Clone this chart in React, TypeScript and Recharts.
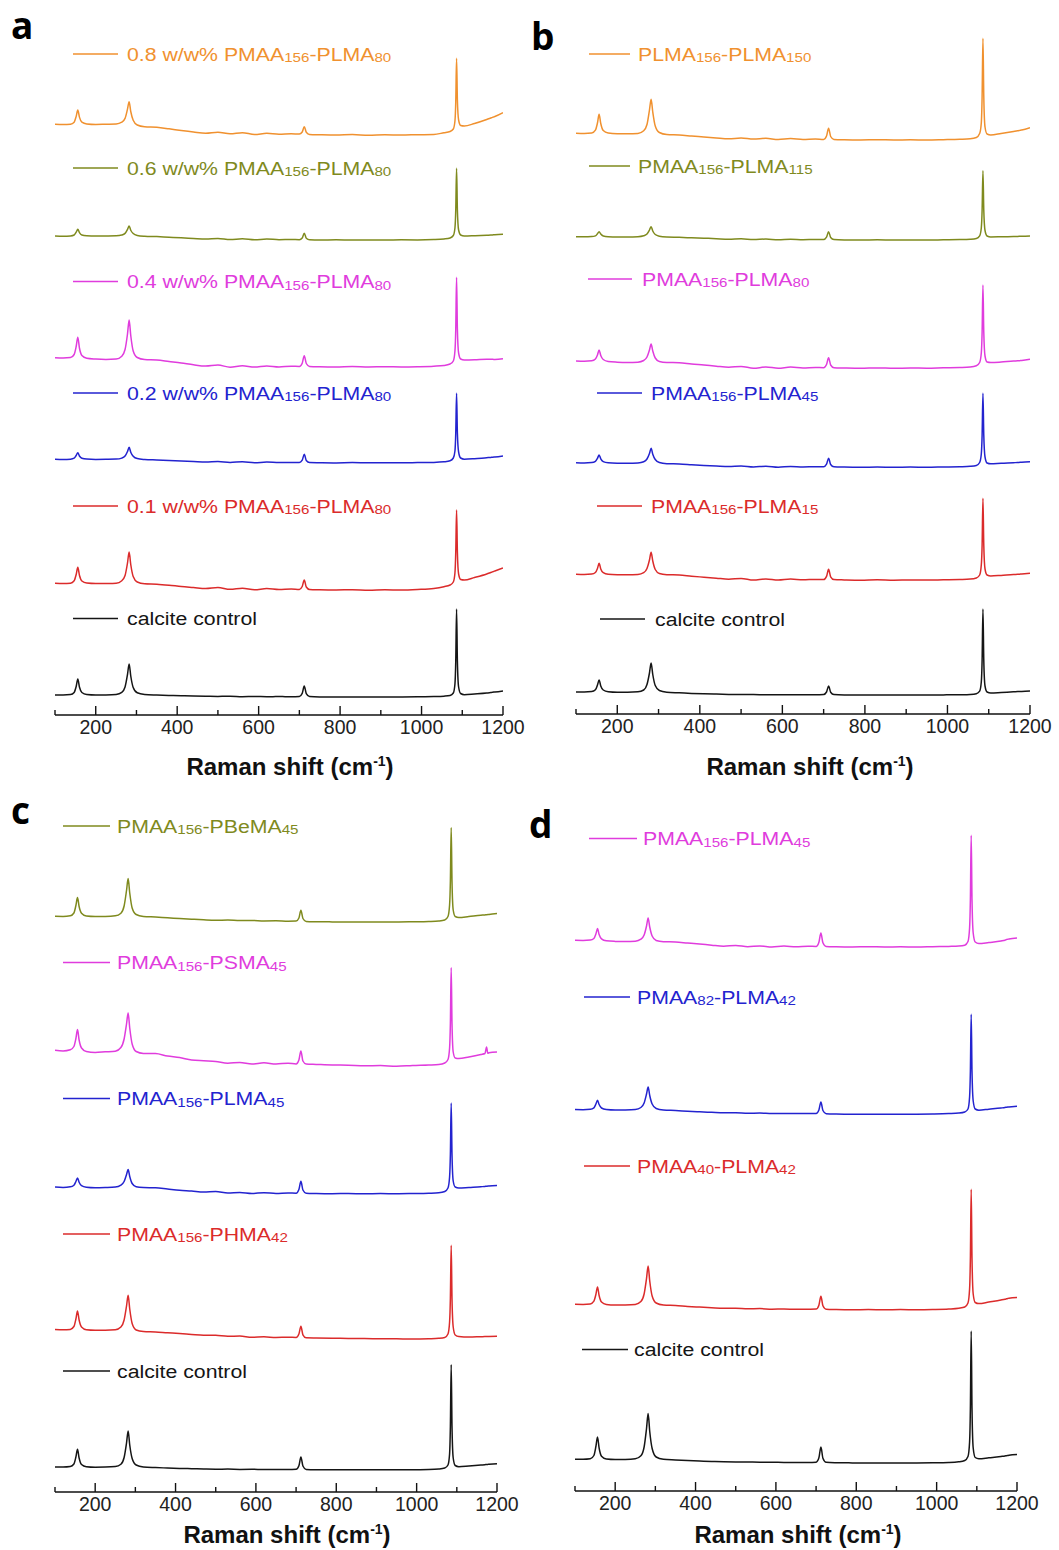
import React from 'react';
import { LineChart, Line, XAxis, YAxis } from 'recharts';

// Raman shift grid (cm-1) shared by every spectrum
const RAMAN_SHIFT = [
  100, 120, 138, 147, 152, 156, 160, 166, 178, 200,
  225, 250, 264, 272, 278, 282, 286, 292, 302, 320,
  350, 380, 410, 440, 470, 500, 530, 560, 590, 620,
  650, 680, 700, 707, 712, 717, 725, 750, 790, 830,
  870, 910, 950, 990, 1030, 1055, 1070, 1078, 1082, 1084,
  1086, 1088, 1091, 1096, 1105, 1130, 1160, 1170, 1174, 1177,
  1180, 1200,
];
const X_TICKS = [100, 200, 300, 400, 500, 600, 700, 800, 900, 1000, 1100, 1200];

// ---------- Panel a (intensities, a.u.) ----------
const A_LABELS = [
  '0.8 w/w% PMAA_{156}-PLMA_{80}',
  '0.6 w/w% PMAA_{156}-PLMA_{80}',
  '0.4 w/w% PMAA_{156}-PLMA_{80}',
  '0.2 w/w% PMAA_{156}-PLMA_{80}',
  '0.1 w/w% PMAA_{156}-PLMA_{80}',
  'calcite control',
];
const A_OFFSETS = [580, 475, 348, 252, 125, 18];
const A_080 = [
  10.7, 10.5, 10.8, 12.8, 18.6, 25, 17.9, 12.8, 11.1, 10.6,
  10.8, 11.0, 12.8, 16.6, 25.9, 33.3, 23.5, 14.8, 10.0, 8.2,
  7.7, 6.2, 4.5, 3.0, 1.8, 2.8, 1.2, 2.3, 0.5, 1.7,
  0.8, 1.2, 0.9, 3.0, 8.3, 2.8, 0.6, 0.3, 0.0, 0.4,
  -0.2, 0.2, 0.0, 0.3, 0.5, 2.3, 3.5, 6.0, 14, 33,
  76.7, 35, 15, 9.5, 9, 11.5, 15.5, 17.0, 17.6, 18.1,
  18.5, 22.3,
];
const A_060 = [
  4.0, 3.8, 4.1, 5.0, 7.8, 10.7, 7.4, 5.0, 4.2, 3.9,
  4.0, 4.2, 5.0, 6.6, 10.6, 14.0, 9.8, 6.5, 4.6, 3.8,
  3.4, 2.8, 2.2, 1.5, 0.9, 1.6, 0.4, 1.2, 0.2, 1.0,
  0.3, 0.5, 0.3, 2.0, 6.7, 1.8, 0.2, 0.0, 0.2, -0.1,
  0.1, 0.0, 0.2, 0.1, 0.4, 1.0, 2.0, 4.5, 12, 30,
  71.7, 30, 10, 5.0, 4.0, 4.3, 4.8, 5.0, 5.1, 5.2,
  5.3, 5.7,
];
const A_040 = [
  9.3, 9.0, 9.4, 12.5, 20.5, 29.7, 19.0, 11.5, 8.8, 8.0,
  7.6, 7.9, 10.8, 17.5, 33.0, 47.0, 31.5, 16.0, 9.5, 7.5,
  7.0, 5.5, 4.0, 2.2, 1.0, 2.0, -0.2, 1.3, -0.1, 1.0,
  0.0, 0.8, 0.5, 3.8, 11.3, 3.5, 0.6, 0.2, 0.0, 0.4,
  0.0, 0.3, 0.1, 0.3, 0.8, 1.5, 3.0, 6.0, 16, 38,
  89.7, 38, 14, 8.0, 7.0, 7.2, 7.8, 7.7, 7.7, 7.6,
  7.6, 8.3,
];
const A_020 = [
  3.7, 3.5, 3.8, 4.8, 7.5, 10.3, 7.0, 4.8, 3.9, 3.6,
  3.7, 3.9, 4.9, 7.0, 11.5, 15.7, 10.8, 6.8, 4.4, 3.5,
  3.0, 2.5, 2.0, 1.5, 1.0, 1.5, 0.6, 1.2, 0.3, 0.9,
  0.4, 0.6, 0.5, 2.8, 8.7, 2.5, 0.5, 0.3, 0.1, 0.4,
  0.2, 0.3, 0.2, 0.4, 0.6, 1.2, 2.2, 5.0, 12, 30,
  69.7, 30, 11, 5.0, 3.8, 4.3, 5.3, 5.6, 5.8, 5.9,
  6.0, 7.0,
];
const A_010 = [
  6.7, 6.5, 6.8, 9.2, 15.5, 22.7, 14.8, 9.0, 6.9, 6.4,
  6.5, 6.8, 9.3, 14.5, 27.0, 38.0, 25.5, 13.5, 8.0, 6.2,
  5.8, 4.8, 3.5, 2.5, 1.5, 2.5, 0.7, 1.8, 0.2, 1.5,
  0.5, 1.0, 0.6, 3.5, 10.0, 3.0, 0.5, 0.2, 0.0, 0.3,
  -0.2, 0.2, 0.0, 0.5, 1.5, 3.3, 5.0, 8.0, 17, 38,
  80.0, 38, 16, 10.5, 10.0, 12.5, 16.0, 17.5, 18.1, 18.6,
  19.0, 22.0,
];
const A_CALCITE = [
  2.0, 2.0, 2.4, 4.6, 10.5, 18.0, 10.0, 4.5, 2.5, 2.0,
  2.1, 2.6, 4.6, 10.0, 22.5, 33.0, 21.0, 9.5, 4.2, 2.6,
  2.0, 1.6, 1.2, 1.0, 0.8, 0.6, 0.7, 0.3, 0.5, 0.3,
  0.4, 0.3, 0.6, 3.6, 11.0, 3.4, 0.5, 0.1, 0.0, 0.1,
  0.0, 0.0, 0.1, 0.2, 0.4, 0.8, 1.5, 4.0, 13, 36,
  88.0, 36, 10, 3.5, 2.3, 3.0, 4.0, 4.5, 4.7, 4.9,
  5.0, 6.0,
];

// ---------- Panel b ----------
const B_LABELS = [
  'PLMA_{156}-PLMA_{150}',
  'PMAA_{156}-PLMA_{115}',
  'PMAA_{156}-PLMA_{80}',
  'PMAA_{156}-PLMA_{45}',
  'PMAA_{156}-PLMA_{15}',
  'calcite control',
];
const B_OFFSETS = [574, 474, 346, 247, 134, 19];
const B_150 = [
  6.7, 6.5, 6.9, 9.8, 17.0, 25.7, 16.5, 9.5, 7.0, 6.3,
  6.2, 6.5, 9.2, 15.5, 30.0, 40.7, 28.0, 14.0, 7.5, 5.5,
  5.0, 4.0, 3.0, 2.0, 1.2, 2.0, 0.9, 1.7, 0.5, 1.4,
  0.6, 1.0, 0.6, 4.0, 11.7, 3.5, 0.6, 0.2, 0.0, 0.3,
  0.0, 0.2, 0.0, 0.3, 0.7, 1.2, 2.5, 6.5, 17, 44,
  101.7, 44, 13, 6.0, 5.0, 6.5, 8.5, 9.2, 9.5, 9.8,
  10.0, 12.3,
];
const B_115 = [
  3.3, 3.2, 3.4, 4.1, 6.2, 8.3, 5.9, 4.0, 3.3, 3.1,
  3.1, 3.3, 4.2, 6.0, 10.0, 13.3, 9.0, 5.5, 3.8, 3.0,
  2.7, 2.2, 1.8, 1.3, 0.8, 1.2, 0.4, 1.0, 0.2, 0.8,
  0.3, 0.5, 0.4, 2.8, 8.3, 2.5, 0.4, 0.1, 0.0, 0.2,
  0.0, 0.1, 0.0, 0.2, 0.4, 0.8, 1.6, 4.2, 12, 30,
  69.3, 30, 9.5, 4.0, 3.0, 3.2, 3.5, 3.6, 3.7, 3.8,
  3.8, 4.0,
];
const B_80 = [
  7.0, 6.8, 7.2, 9.0, 13.0, 18.0, 12.5, 8.5, 6.5, 5.8,
  5.5, 5.8, 7.5, 11.0, 18.0, 24.0, 17.0, 10.0, 6.5, 5.5,
  5.3, 4.0, 3.0, 1.8, 0.8, 1.6, -0.3, 1.0, -0.2, 0.9,
  0.0, 0.6, 0.3, 3.5, 10.3, 3.0, 0.3, 0.0, -0.3, 0.1,
  -0.3, 0.0, -0.2, 0.2, 0.5, 1.0, 2.2, 5.5, 15, 36,
  83.0, 36, 12, 6.0, 5.5, 6.0, 7.0, 7.2, 7.3, 7.4,
  7.5, 8.7,
];
const B_45 = [
  4.3, 4.1, 4.4, 5.6, 8.7, 12.0, 8.2, 5.4, 4.2, 3.8,
  3.7, 4.0, 5.2, 8.0, 13.5, 18.7, 12.8, 7.5, 4.5, 3.3,
  3.0, 2.3, 1.6, 1.0, 0.5, 1.0, 0.0, 0.8, -0.2, 0.6,
  0.0, 0.3, 0.2, 2.8, 8.7, 2.5, 0.2, -0.1, -0.3, 0.0,
  -0.3, -0.1, -0.3, 0.0, 0.3, 0.7, 1.5, 4.5, 13, 32,
  73.7, 32, 10, 4.0, 3.2, 3.8, 4.3, 4.5, 4.6, 4.7,
  4.8, 5.3,
];
const B_15 = [
  5.7, 5.5, 5.9, 7.5, 11.5, 16.7, 11.0, 7.3, 5.7, 5.3,
  5.2, 5.5, 7.3, 11.5, 20.0, 27.7, 19.0, 10.5, 6.5, 5.3,
  5.0, 3.8, 2.8, 1.8, 0.8, 1.6, -0.1, 1.0, -0.1, 0.9,
  0.2, 0.6, 0.4, 3.6, 10.7, 3.2, 0.4, 0.1, -0.2, 0.2,
  -0.2, 0.1, -0.1, 0.2, 0.5, 0.9, 2.0, 5.0, 15, 35,
  81.7, 35, 11, 5.0, 4.0, 4.6, 5.5, 5.7, 5.8, 5.9,
  6.0, 6.7,
];
const B_CALCITE = [
  3.0, 3.0, 3.4, 5.2, 10.0, 15.0, 9.0, 5.0, 3.3, 2.8,
  2.8, 3.2, 5.0, 10.5, 22.0, 32.0, 20.5, 9.5, 4.5, 2.8,
  2.2, 1.6, 1.2, 0.9, 0.6, 0.5, 0.5, 0.2, 0.3, 0.2,
  0.3, 0.2, 0.5, 3.0, 9.0, 2.8, 0.4, 0.1, 0.0, 0.0,
  0.0, 0.0, 0.0, 0.1, 0.3, 0.6, 1.3, 3.8, 13, 35,
  86.0, 35, 9, 3.0, 2.0, 2.5, 3.2, 3.4, 3.5, 3.5,
  3.6, 4.0,
];

// ---------- Panel c ----------
const C_LABELS = [
  'PMAA_{156}-PBeMA_{45}',
  'PMAA_{156}-PSMA_{45}',
  'PMAA_{156}-PLMA_{45}',
  'PMAA_{156}-PHMA_{42}',
  'calcite control',
];
const C_OFFSETS = [570, 426, 298, 153, 22];
const C_PBEMA = [
  5.7, 5.6, 6.2, 9.0, 16.5, 24.4, 15.5, 8.8, 6.0, 5.5,
  5.6, 6.2, 8.8, 16.0, 31.5, 43.4, 29.0, 14.0, 7.5, 5.6,
  5.0, 4.2, 3.5, 2.8, 2.2, 1.8, 1.9, 1.4, 1.5, 1.1,
  1.2, 0.8, 0.9, 4.0, 11.7, 3.5, 0.6, 0.3, 0.1, 0.0,
  0.1, 0.0, 0.0, 0.2, 0.5, 1.0, 2.0, 5.5, 17, 41,
  94.4, 41, 12, 5.5, 4.5, 5.5, 6.8, 7.1, 7.3, 7.4,
  7.6, 8.4,
];
const C_PSMA = [
  15.7, 15.0, 16.2, 19.5, 27.5, 36.4, 26.0, 18.0, 14.5, 13.6,
  14.2, 14.8, 18.5, 27.0, 42.0, 53.0, 38.0, 22.0, 14.5, 12.6,
  12.4, 10.0, 8.5, 6.0, 5.2, 4.5, 2.8, 3.6, 2.0, 3.2,
  2.0, 2.8, 2.0, 6.0, 15.0, 5.0, 2.0, 1.6, 1.0, 0.8,
  0.2, 0.5, -0.3, 0.5, 1.0, 1.5, 3.0, 6.5, 18, 43,
  98.4, 43, 14, 8.0, 7.4, 9.0, 11.5, 12.5, 19.0, 12.8,
  13.2, 14.0,
];
const C_PLMA = [
  7.0, 6.6, 7.2, 8.8, 12.5, 16.0, 11.8, 8.3, 6.8, 6.3,
  6.5, 6.9, 8.8, 12.5, 19.5, 24.4, 17.5, 10.5, 7.3, 6.5,
  6.2, 5.0, 3.8, 3.0, 2.0, 2.4, 1.0, 1.5, 0.5, 1.3,
  0.6, 1.0, 0.8, 4.5, 12.7, 4.0, 0.8, 0.5, 0.3, 0.5,
  0.2, 0.4, 0.3, 0.5, 0.8, 1.2, 2.5, 6.0, 17, 40,
  91.0, 40, 13, 7.0, 6.0, 6.6, 7.3, 7.6, 7.8, 7.9,
  8.0, 8.4,
];
const C_PHMA = [
  9.4, 9.2, 9.6, 12.5, 20.0, 28.0, 19.0, 12.0, 9.3, 8.8,
  8.8, 9.2, 12.0, 19.0, 33.0, 43.7, 30.0, 15.5, 9.0, 7.4,
  7.0, 6.2, 5.5, 4.6, 3.8, 3.7, 2.8, 2.9, 1.7, 2.2,
  1.5, 1.8, 1.5, 5.0, 12.7, 4.2, 1.2, 1.0, 0.8, 0.6,
  0.4, 0.3, 0.2, 0.0, 0.3, 0.7, 1.5, 5.0, 17, 41,
  93.7, 41, 12, 4.0, 2.5, 2.0, 2.3, 2.4, 2.5, 2.5,
  2.6, 2.8,
];
const C_CALCITE = [
  3.0, 3.0, 3.5, 6.0, 13.0, 20.7, 12.0, 5.5, 3.3, 2.8,
  2.9, 3.4, 5.8, 12.5, 27.0, 39.0, 25.0, 11.5, 5.0, 3.0,
  2.4, 2.0, 1.6, 1.3, 1.0, 0.8, 0.9, 0.6, 0.7, 0.5,
  0.6, 0.4, 0.7, 4.2, 13.0, 4.0, 0.6, 0.3, 0.2, 0.2,
  0.2, 0.2, 0.2, 0.3, 0.5, 1.0, 2.0, 5.0, 16, 44,
  105.3, 44, 12, 4.5, 3.3, 4.0, 5.0, 5.3, 5.5, 5.6,
  5.7, 6.3,
];

// ---------- Panel d ----------
const D_LABELS = [
  'PMAA_{156}-PLMA_{45}',
  'PMAA_{82}-PLMA_{42}',
  'PMAA_{40}-PLMA_{42}',
  'calcite control',
];
const D_OFFSETS = [544, 377, 181, 28];
const D_156_45 = [
  6.7, 6.6, 6.9, 8.5, 13.0, 18.4, 12.5, 8.2, 6.2, 5.6,
  5.4, 5.8, 7.8, 12.0, 21.0, 29.0, 20.0, 11.0, 6.5, 5.3,
  5.0, 4.0, 3.0, 1.8, 0.8, 1.6, 0.2, 1.1, 0.0, 0.9,
  0.2, 0.8, 0.5, 4.8, 14.0, 4.2, 0.5, 0.2, 0.0, 0.3,
  0.0, 0.2, 0.0, 0.3, 0.6, 0.9, 1.8, 5.5, 19, 48,
  111.7, 48, 14, 5.0, 3.4, 4.5, 6.0, 6.8, 7.5, 7.7,
  8.0, 9.0,
];
const D_82_42 = [
  4.4, 4.3, 4.7, 6.2, 10.0, 13.7, 9.5, 6.0, 4.5, 4.0,
  4.1, 4.5, 6.5, 11.0, 20.0, 27.0, 18.5, 10.0, 5.5, 4.0,
  3.5, 2.8, 2.2, 1.7, 1.2, 1.2, 0.8, 0.9, 0.5, 0.6,
  0.4, 0.4, 0.4, 4.0, 12.0, 3.5, 0.3, -0.1, -0.3, -0.2,
  -0.3, -0.3, -0.2, 0.0, 0.4, 0.9, 2.0, 5.0, 17, 43,
  99.7, 43, 13, 5.0, 3.8, 4.8, 6.0, 6.5, 6.8, 7.0,
  7.1, 7.7,
];
const D_40_42 = [
  5.7, 5.6, 6.0, 8.8, 15.5, 23.0, 14.5, 8.0, 5.6, 5.0,
  5.1, 5.6, 8.5, 16.0, 31.5, 44.0, 29.0, 14.0, 7.0, 5.0,
  4.5, 3.6, 2.9, 2.3, 1.8, 1.8, 1.2, 1.4, 0.8, 1.0,
  0.7, 0.8, 0.9, 4.8, 13.7, 4.2, 0.8, 0.5, 0.3, 0.4,
  0.3, 0.4, 0.3, 0.5, 1.0, 1.8, 3.0, 7.0, 21, 52,
  120.7, 52, 16, 7.5, 6.4, 8.0, 10.0, 10.8, 11.2, 11.5,
  11.8, 12.4,
];
const D_CALCITE = [
  3.7, 3.7, 4.2, 7.5, 16.5, 26.0, 15.0, 6.8, 4.0, 3.5,
  3.6, 4.2, 7.2, 16.0, 34.5, 49.4, 31.5, 14.5, 6.0, 3.7,
  3.0, 2.4, 2.0, 1.6, 1.3, 1.1, 1.0, 0.8, 0.8, 0.6,
  0.6, 0.5, 0.8, 5.2, 16.0, 4.8, 0.7, 0.3, 0.1, 0.0,
  0.0, 0.0, 0.1, 0.2, 0.5, 1.2, 2.5, 6.5, 21, 55,
  132.0, 55, 15, 5.5, 4.2, 5.2, 6.5, 7.0, 7.3, 7.5,
  7.7, 8.4,
];

// ---------- styles ----------
const ORANGE = '#F0912F';
const OLIVE = '#7F8A1E';
const MAGENTA = '#E03CDD';
const BLUE = '#2323CF';
const RED = '#DB2B2B';
const BLACK = '#151515';
const SANS = "'Liberation Sans', Arial, Helvetica, sans-serif";

type Legend = { x1: number; x2: number; tx: number; y: number };
type PanelDef = {
  letter: string; letterX: number; letterY: number;
  plotLeft: number; plotRight: number; plotTop: number; axisY: number;
  titleX: number; titleY: number;
  labels: string[]; offsets: number[]; values: number[][]; colors: string[];
  legends: Legend[];
};

const PANELS: PanelDef[] = [
  {
    letter: 'a', letterX: 11, letterY: 39,
    plotLeft: 55, plotRight: 503, plotTop: 30, axisY: 715,
    titleX: 290, titleY: 775,
    labels: A_LABELS, offsets: A_OFFSETS,
    values: [A_080, A_060, A_040, A_020, A_010, A_CALCITE],
    colors: [ORANGE, OLIVE, MAGENTA, BLUE, RED, BLACK],
    legends: [
      { x1: 73, x2: 118, tx: 127, y: 54 },
      { x1: 73, x2: 118, tx: 127, y: 168 },
      { x1: 73, x2: 118, tx: 127, y: 281.5 },
      { x1: 73, x2: 118, tx: 127, y: 393 },
      { x1: 73, x2: 118, tx: 127, y: 506 },
      { x1: 73, x2: 118, tx: 127, y: 618.5 },
    ],
  },
  {
    letter: 'b', letterX: 531, letterY: 50,
    plotLeft: 576, plotRight: 1030, plotTop: 30, axisY: 714,
    titleX: 810, titleY: 775,
    labels: B_LABELS, offsets: B_OFFSETS,
    values: [B_150, B_115, B_80, B_45, B_15, B_CALCITE],
    colors: [ORANGE, OLIVE, MAGENTA, BLUE, RED, BLACK],
    legends: [
      { x1: 589, x2: 630, tx: 638, y: 54 },
      { x1: 589, x2: 630, tx: 638, y: 166 },
      { x1: 588, x2: 632, tx: 642, y: 279 },
      { x1: 597, x2: 642, tx: 651, y: 393 },
      { x1: 597, x2: 642, tx: 651, y: 506 },
      { x1: 600, x2: 645, tx: 655, y: 619 },
    ],
  },
  {
    letter: 'c', letterX: 11, letterY: 824,
    plotLeft: 55, plotRight: 497, plotTop: 800, axisY: 1492,
    titleX: 287, titleY: 1543,
    labels: C_LABELS, offsets: C_OFFSETS,
    values: [C_PBEMA, C_PSMA, C_PLMA, C_PHMA, C_CALCITE],
    colors: [OLIVE, MAGENTA, BLUE, RED, BLACK],
    legends: [
      { x1: 63, x2: 110, tx: 117, y: 826 },
      { x1: 63, x2: 110, tx: 117, y: 962.5 },
      { x1: 63, x2: 110, tx: 117, y: 1098.5 },
      { x1: 63, x2: 110, tx: 117, y: 1234 },
      { x1: 63, x2: 110, tx: 117, y: 1371 },
    ],
  },
  {
    letter: 'd', letterX: 529, letterY: 838,
    plotLeft: 575, plotRight: 1017, plotTop: 800, axisY: 1491,
    titleX: 798, titleY: 1543,
    labels: D_LABELS, offsets: D_OFFSETS,
    values: [D_156_45, D_82_42, D_40_42, D_CALCITE],
    colors: [MAGENTA, BLUE, RED, BLACK],
    legends: [
      { x1: 589, x2: 637, tx: 643, y: 838.5 },
      { x1: 584, x2: 630, tx: 637, y: 997 },
      { x1: 584, x2: 630, tx: 637, y: 1166 },
      { x1: 582, x2: 628, tx: 634, y: 1349.5 },
    ],
  },
];

const ML = 25;
const MR = 45;
const AXH = 70;

function makeTick(axisLocalY: number) {
  return (props: any) => {
    const { x, payload } = props;
    const v = payload.value as number;
    const major = v % 200 === 0;
    return (
      <g>
        <line x1={x} x2={x} y1={axisLocalY} y2={axisLocalY - (major ? 9 : 5)} stroke="#111" strokeWidth={1.4} />
        {major && (
          <text x={x} y={axisLocalY + 19} textAnchor="middle" fontSize={19.5} fontFamily={SANS} fill="#222">
            {v}
          </text>
        )}
      </g>
    );
  };
}

function Panel({ p }: { p: PanelDef }) {
  const W = p.plotRight - p.plotLeft;
  const H = p.axisY - p.plotTop;
  const data = RAMAN_SHIFT.map((x, i) => {
    const row: Record<string, number> = { x };
    p.values.forEach((vals, j) => {
      row['s' + j] = p.offsets[j] + vals[i];
    });
    return row;
  });
  return (
    <div style={{ position: 'absolute', left: p.plotLeft - ML, top: p.plotTop }}>
      <LineChart width={W + ML + MR} height={H + AXH} data={data} margin={{ top: 0, right: MR, bottom: 0, left: ML }}>
        <XAxis
          dataKey="x"
          type="number"
          domain={[100, 1200]}
          ticks={X_TICKS}
          interval={0}
          height={AXH}
          allowDataOverflow
          axisLine={{ stroke: '#111', strokeWidth: 1.6 }}
          tickLine={false}
          tick={makeTick(H)}
        />
        <YAxis hide type="number" domain={[0, H]} allowDataOverflow />
        {p.values.map((_, j) => (
          <Line
            key={j}
            dataKey={'s' + j}
            name={p.labels[j]}
            type="monotone"
            stroke={p.colors[j]}
            strokeWidth={1.5}
            dot={false}
            activeDot={false}
            isAnimationActive={false}
          />
        ))}
      </LineChart>
    </div>
  );
}

function LegendText({ label, color }: { label: string; color: string }) {
  const parts = label.split(/_\{|\}/);
  let shifted = false;
  const nodes: React.ReactNode[] = [];
  parts.forEach((part, i) => {
    if (part === '') return;
    const sub = i % 2 === 1;
    let dy = 0;
    if (sub && !shifted) { dy = 1.5; shifted = true; }
    else if (!sub && shifted) { dy = -1.5; shifted = false; }
    nodes.push(
      <tspan key={i} fontSize={sub ? 13.5 : 19} dy={dy}>{part}</tspan>
    );
  });
  return <text fill={color} fontFamily={SANS} fontSize={19}>{nodes}</text>;
}

function Overlay() {
  return (
    <svg width={1059} height={1550} style={{ position: 'absolute', left: 0, top: 0, pointerEvents: 'none' }}>
      {PANELS.map((p, k) => (
        <g key={k}>
          <text x={p.letterX} y={p.letterY} fontFamily="'Open Sans', sans-serif" fontWeight={700} fontSize={37} fill="#000">
            {p.letter}
          </text>
          <text x={p.titleX} y={p.titleY} textAnchor="middle" fontFamily={SANS} fontWeight={700} fontSize={24} fill="#111">
            Raman shift (cm<tspan fontSize={14} dy={-9}>-1</tspan><tspan dy={9}>)</tspan>
          </text>
          {p.legends.map((l, j) => (
            <g key={j}>
              <line x1={l.x1} x2={l.x2} y1={l.y} y2={l.y} stroke={p.colors[j]} strokeWidth={1.5} />
              <g transform={`translate(${l.tx},${l.y + 6.8}) scale(1.12,1)`}>
                <LegendText label={p.labels[j]} color={p.colors[j]} />
              </g>
            </g>
          ))}
        </g>
      ))}
    </svg>
  );
}

export default function App() {
  return (
    <div style={{ position: 'absolute', left: 0, top: 0, width: 1059, height: 1550, background: '#fff' }}>
      {PANELS.map((p, k) => (
        <Panel key={k} p={p} />
      ))}
      <Overlay />
    </div>
  );
}
